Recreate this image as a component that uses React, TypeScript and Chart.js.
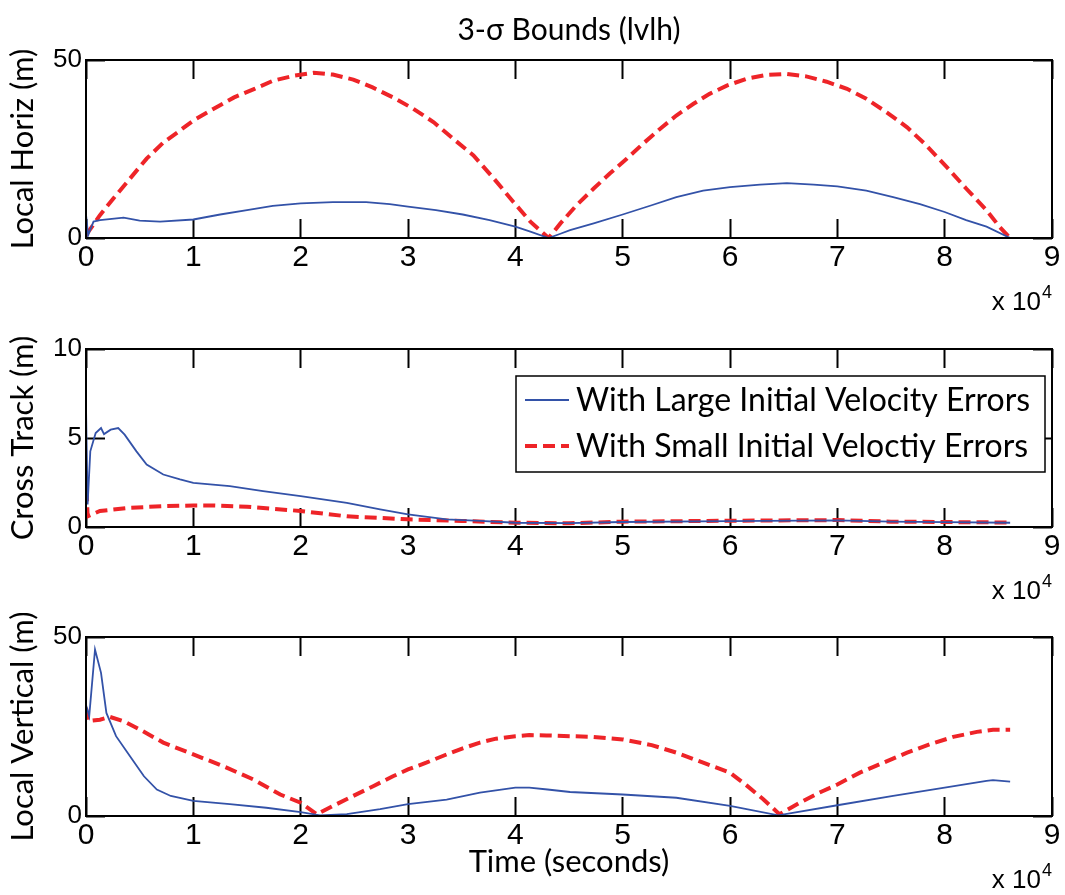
import React, { useEffect, useRef } from "react";
import { Chart, registerables } from "chart.js";

Chart.register(...registerables);

// ---------- data (time in seconds, values in metres) ----------
const seriesLabels = [
  "With Large Initial Velocity Errors",
  "With Small Initial Veloctiy Errors",
];
const xTickValues = [0, 10000, 20000, 30000, 40000, 50000, 60000, 70000, 80000, 90000];
const xTickLabels = ["0", "1", "2", "3", "4", "5", "6", "7", "8", "9"];
const yTicksHoriz = [0, 50];
const yTicksCross = [0, 5, 10];
const yTicksVert = [0, 50];

// Local Horiz
const horizLargeT = [0, 200, 700, 1300, 3500, 5000, 6900, 10000, 12500, 15000, 17400, 20000, 23000, 26100, 28300, 30000, 32600, 35100, 37600, 40000, 41400, 43100, 44200, 45100, 47300, 50000, 52700, 55000, 57500, 60000, 62800, 65300, 67800, 70000, 72700, 75200, 77700, 80000, 82000, 83900, 86100];
const horizLargeV = [6.6, 0.8, 4.6, 5.0, 5.7, 4.9, 4.6, 5.2, 6.6, 7.8, 9.0, 9.7, 10.1, 10.1, 9.5, 8.8, 7.8, 6.6, 5.0, 3.2, 1.8, 0.0, 1.2, 2.2, 4.1, 6.6, 9.2, 11.5, 13.3, 14.3, 15.0, 15.4, 15.0, 14.5, 13.3, 11.5, 9.5, 7.3, 5.0, 3.2, 0.0];
const horizSmallT = [0, 1300, 2550, 4100, 5650, 7200, 8760, 10000, 11900, 13800, 15700, 17450, 19400, 21200, 23000, 24900, 26700, 28600, 30500, 32400, 34200, 36100, 38000, 39800, 41400, 43100, 44200, 45700, 47300, 48800, 50400, 51900, 53500, 55000, 56600, 58100, 59700, 61500, 63400, 65300, 67100, 69000, 70900, 72700, 74600, 76500, 78300, 80200, 82000, 83900, 85100, 86100];
const horizSmallV = [0.8, 6.4, 11.1, 16.7, 22.3, 26.8, 30.2, 33.0, 36.3, 39.5, 41.9, 44.2, 45.6, 46.4, 45.9, 44.5, 42.3, 39.5, 36.3, 32.5, 27.9, 23.2, 16.7, 10.2, 4.6, 0, 4.1, 9.2, 13.9, 18.1, 22.3, 26.5, 30.7, 34.4, 37.7, 40.5, 42.8, 44.7, 45.8, 46.1, 45.4, 43.9, 41.9, 39.1, 35.3, 31.1, 26.0, 19.9, 13.9, 7.8, 3.2, 0];

// Cross Track
const crossLargeT = [0, 150, 400, 900, 1400, 1680, 2300, 3000, 3600, 4700, 5650, 7200, 8760, 10000, 13400, 16500, 20000, 24300, 27400, 30000, 33600, 36700, 40000, 45000, 50000, 60000, 70000, 75000, 80000, 86100];
const crossLargeV = [6.77, 1.27, 4.25, 5.28, 5.56, 5.22, 5.47, 5.56, 5.19, 4.25, 3.51, 2.95, 2.67, 2.48, 2.30, 2.01, 1.73, 1.36, 0.99, 0.71, 0.43, 0.34, 0.24, 0.22, 0.28, 0.33, 0.37, 0.30, 0.27, 0.24];
const crossSmallT = [0, 150, 1300, 4100, 7200, 10000, 12000, 15000, 20000, 24300, 30000, 35000, 40000, 45000, 50000, 60000, 70000, 75000, 80000, 86100];
const crossSmallV = [3.13, 0.6, 0.9, 1.08, 1.17, 1.21, 1.21, 1.14, 0.9, 0.6, 0.43, 0.34, 0.24, 0.21, 0.3, 0.35, 0.39, 0.3, 0.28, 0.25];

// Local Vertical
const vertLargeT = [0, 300, 840, 1400, 1900, 2800, 4100, 5400, 6600, 7900, 10000, 13400, 16800, 20000, 21800, 24300, 27400, 30000, 33600, 36700, 40000, 41300, 43000, 45100, 50000, 55000, 60000, 64500, 70000, 75200, 80000, 83900, 84500, 86100];
const vertLargeV = [31, 27.9, 46.5, 40, 28.8, 22.3, 16.7, 11.1, 7.4, 5.6, 4.2, 3.3, 2.3, 1.1, 0.2, 0.5, 1.9, 3.3, 4.6, 6.5, 7.9, 7.9, 7.4, 6.7, 6.0, 5.1, 2.8, 0.2, 3.0, 5.6, 7.9, 9.8, 10.0, 9.6];
const vertSmallT = [0, 200, 1300, 2200, 3500, 5000, 7200, 10000, 12800, 15600, 18100, 20000, 21500, 23000, 24900, 26800, 28600, 30000, 31700, 33600, 35100, 36700, 38200, 40000, 41300, 42900, 45100, 47300, 50000, 52700, 55000, 57500, 60000, 61600, 63100, 64600, 66500, 68300, 70000, 72100, 74300, 76500, 78600, 80800, 83000, 84500, 86100];
const vertSmallV = [30.2, 26.5, 26.9, 27.7, 26.5, 24.2, 20.5, 17.2, 13.9, 10.2, 6.0, 3.7, 0.5, 2.8, 5.6, 8.4, 11.1, 13.0, 14.9, 17.2, 18.9, 20.5, 21.6, 22.3, 22.6, 22.5, 22.3, 22.1, 21.4, 19.8, 17.7, 14.9, 12.1, 8.4, 4.7, 0.5, 3.7, 6.5, 8.8, 12.1, 14.9, 17.7, 20.0, 22.1, 23.5, 24.1, 24.1];

// ---------- styles ----------
const BLUE = "#3352a8";
const RED = "#ee2428";
const LABEL_FONT = "Lato";
const TICK_FONT = "Liberation Sans";
const W = 1065;
const TICK_LEN = 19;

const pts = (t: number[], v: number[]) => t.map((x, i) => ({ x, y: v[i] }));

type Panel = {
  top: number;
  height: number;
  areaTop: number;
  xAxisH: number;
  yMax: number;
  yTicks: number[];
  yLabel: string;
  title?: string;
  xTitle?: string;
  large: { x: number; y: number }[];
  small: { x: number; y: number }[];
  legend?: { x: number; y: number; w: number; h: number; rows: number[] };
};

const panels: Panel[] = [
  {
    top: 0,
    height: 320,
    areaTop: 0,
    xAxisH: 82,
    yMax: 50,
    yTicks: yTicksHoriz,
    yLabel: "Local Horiz (m)",
    title: "3-σ Bounds (lvlh)",
    large: pts(horizLargeT, horizLargeV),
    small: pts(horizSmallT, horizSmallV),
  },
  {
    top: 320,
    height: 290,
    areaTop: 29,
    xAxisH: 83,
    yMax: 10,
    yTicks: yTicksCross,
    yLabel: "Cross Track (m)",
    large: pts(crossLargeT, crossLargeV),
    small: pts(crossSmallT, crossSmallV),
    legend: { x: 516, y: 56, w: 529, h: 96, rows: [24, 70] },
  },
  {
    top: 610,
    height: 285,
    areaTop: 27,
    xAxisH: 79,
    yMax: 50,
    yTicks: yTicksVert,
    yLabel: "Local Vertical (m)",
    xTitle: "Time (seconds)",
    large: pts(vertLargeT, vertLargeV),
    small: pts(vertSmallT, vertSmallV),
  },
];

// inward tick marks drawn by Chart.js itself (negative tick length)
const inwardGrid = {
  display: true,
  drawOnChartArea: false,
  drawTicks: true,
  tickLength: -TICK_LEN,
  tickWidth: 2,
  tickColor: "#000",
};

function PanelChart({ p }: { p: Panel }) {
  const ref = useRef<HTMLCanvasElement>(null);
  useEffect(() => {
    if (!ref.current) return;
    const framePlugin = {
      id: "matlabFrame",
      afterDraw(chart: any) {
        const { ctx, chartArea } = chart;
        const { left, right, top, bottom } = chartArea;
        ctx.save();
        ctx.setLineDash([]);
        ctx.strokeStyle = "#000";
        ctx.lineWidth = 2;
        ctx.strokeRect(left, top, right - left, bottom - top);

        // exponent label
        ctx.fillStyle = "#000";
        ctx.textAlign = "right";
        ctx.textBaseline = "alphabetic";
        ctx.font = `26px "${TICK_FONT}"`;
        ctx.fillText("x 10", right - 11, bottom + 72);
        ctx.font = `18px "${TICK_FONT}"`;
        ctx.fillText("4", right, bottom + 60);

        const L = p.legend;
        if (L) {
          ctx.fillStyle = "#fff";
          ctx.fillRect(L.x, L.y, L.w, L.h);
          ctx.lineWidth = 1.5;
          ctx.strokeStyle = "#000";
          ctx.strokeRect(L.x, L.y, L.w, L.h);
          chart.data.datasets.forEach((ds: any, i: number) => {
            const cy = L.y + L.rows[i];
            ctx.save();
            ctx.strokeStyle = ds.borderColor;
            ctx.lineWidth = ds.borderWidth;
            ctx.setLineDash(ds.borderDash || []);
            ctx.beginPath();
            ctx.moveTo(L.x + 9, cy);
            ctx.lineTo(L.x + 53, cy);
            ctx.stroke();
            ctx.restore();
            ctx.fillStyle = "#000";
            ctx.textAlign = "left";
            ctx.textBaseline = "middle";
            ctx.font = `32px "${LABEL_FONT}"`;
            ctx.fillText(ds.label, L.x + 60, cy + 1);
          });
        }
        ctx.restore();
      },
    };
    const xMin = xTickValues[0];
    const xMax = xTickValues[xTickValues.length - 1];
    const chart = new Chart(ref.current, {
      type: "line",
      data: {
        datasets: [
          {
            label: seriesLabels[0],
            data: p.large,
            xAxisID: "x",
            yAxisID: "y",
            borderColor: BLUE,
            borderWidth: 1.8,
            pointRadius: 0,
            tension: 0,
            fill: false,
          },
          {
            label: seriesLabels[1],
            data: p.small,
            xAxisID: "x",
            yAxisID: "y",
            borderColor: RED,
            borderWidth: 4,
            borderDash: [12, 6],
            borderCapStyle: "butt",
            pointRadius: 0,
            tension: 0,
            fill: false,
          },
        ],
      },
      options: {
        responsive: false,
        animation: false,
        devicePixelRatio: 1,
        events: [],
        layout: { padding: { top: p.areaTop, right: 13, left: 0, bottom: 0 } },
        plugins: {
          legend: { display: false },
          tooltip: { enabled: false },
          title: {
            display: !!p.title,
            text: p.title || "",
            fullSize: false,
            color: "#000",
            font: { family: LABEL_FONT, size: 30, weight: "normal" },
            padding: { top: 12, bottom: 12 },
          },
        } as any,
        scales: {
          x: {
            type: "linear",
            position: "bottom",
            min: xMin,
            max: xMax,
            grid: inwardGrid,
            border: { display: false },
            afterBuildTicks: (s: any) => {
              s.ticks = xTickValues.map((v) => ({ value: v }));
            },
            ticks: {
              autoSkip: false,
              maxRotation: 0,
              color: "#000",
              padding: 2 + TICK_LEN,
              font: { family: TICK_FONT, size: 30 },
              callback: (_v: any, i: number) => xTickLabels[i],
            },
            title: {
              display: !!p.xTitle,
              text: p.xTitle || "",
              color: "#000",
              font: { family: LABEL_FONT, size: 31 },
              padding: { top: 0, bottom: 14 },
            },
            afterFit: (s: any) => {
              s.height = p.xAxisH;
              s.paddingLeft = 0;
              s.paddingRight = 0;
            },
          },
          x2: {
            type: "linear",
            axis: "x",
            position: "top",
            min: xMin,
            max: xMax,
            grid: inwardGrid,
            border: { display: false },
            afterBuildTicks: (s: any) => {
              s.ticks = xTickValues.map((v) => ({ value: v }));
            },
            ticks: { display: false },
            afterFit: (s: any) => {
              s.height = 0;
              s.paddingLeft = 0;
              s.paddingRight = 0;
            },
          },
          y: {
            type: "linear",
            position: "left",
            min: 0,
            max: p.yMax,
            grid: inwardGrid,
            border: { display: false },
            afterBuildTicks: (s: any) => {
              s.ticks = p.yTicks.map((v) => ({ value: v }));
            },
            ticks: {
              color: "#000",
              padding: 4 + TICK_LEN,
              font: { family: TICK_FONT, size: 26 },
            },
            title: {
              display: true,
              text: p.yLabel,
              color: "#000",
              font: { family: LABEL_FONT, size: 31 },
              padding: { top: 4, bottom: 0 },
            },
            afterFit: (s: any) => {
              s.width = 86;
              s.paddingTop = 0;
              s.paddingBottom = 0;
            },
          },
          y2: {
            type: "linear",
            axis: "y",
            position: "right",
            min: 0,
            max: p.yMax,
            grid: inwardGrid,
            border: { display: false },
            afterBuildTicks: (s: any) => {
              s.ticks = p.yTicks.map((v) => ({ value: v }));
            },
            ticks: { display: false },
            afterFit: (s: any) => {
              s.width = 0;
              s.paddingTop = 0;
              s.paddingBottom = 0;
            },
          },
        },
      } as any,
      plugins: [framePlugin as any],
    });
    return () => chart.destroy();
  }, [p]);
  return (
    <canvas
      ref={ref}
      width={W}
      height={p.height}
      style={{ position: "absolute", left: 0, top: p.top, width: W, height: p.height }}
    />
  );
}

export default function App() {
  return (
    <div
      style={{
        position: "absolute",
        left: 0,
        top: 0,
        width: W,
        height: 895,
        background: "#fff",
        overflow: "hidden",
      }}
    >
      {panels.map((p, i) => (
        <PanelChart key={i} p={p} />
      ))}
    </div>
  );
}
